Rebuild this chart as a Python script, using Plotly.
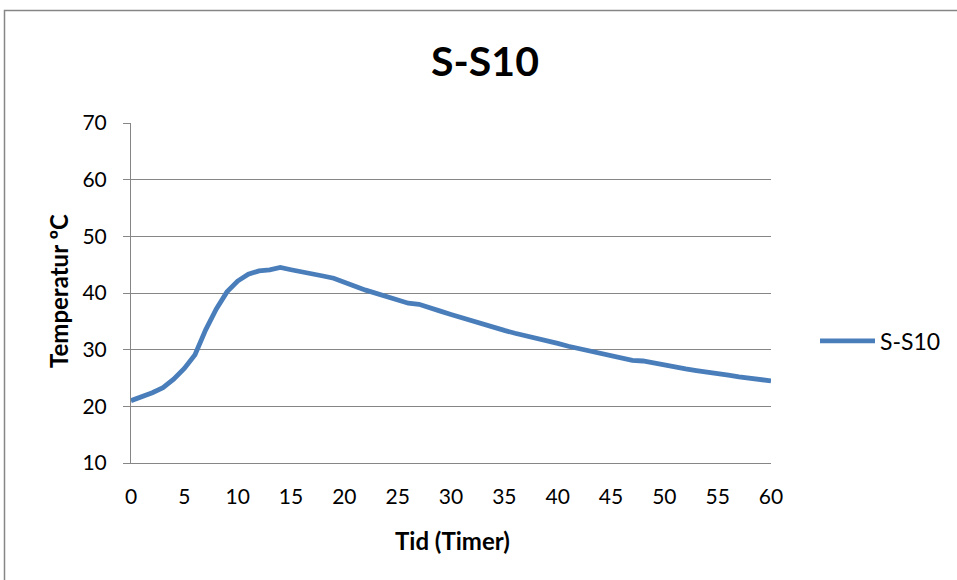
import plotly.graph_objects as go

# Data
hours = list(range(0, 61))
temperature = [
    21.0, 21.6, 22.4, 23.3, 24.8, 26.7, 29.1, 33.5, 37.2, 40.2,
    42.1, 43.3, 43.9, 44.1, 44.5, 44.1, 43.8, 43.5, 43.0, 42.6,
    42.0, 41.2, 40.5, 39.9, 39.4, 38.9, 38.2, 38.0, 37.3, 36.8,
    36.2, 35.6, 35.1, 34.4, 33.9, 33.4, 32.9, 32.5, 32.0, 31.6,
    31.1, 30.6, 30.2, 29.8, 29.3, 29.0, 28.6, 28.1, 28.0, 27.6,
    27.2, 27.0, 26.6, 26.3, 26.1, 25.8, 25.5, 25.2, 25.0, 24.9,
    24.5,
]
series_name = "S-S10"
chart_title = "S-S10"
x_title = "Tid (Timer)"
y_title = "Temperatur ºC"
x_ticks = list(range(0, 61, 5))
y_ticks = list(range(10, 71, 10))

FONT = "Lato, 'Open Sans', sans-serif"
GRID = "#868686"

fig = go.Figure()
fig.add_trace(go.Scatter(
    x=hours, y=temperature, mode="lines", name=series_name,
    line=dict(color="#4A7EBB", width=4.8, shape="linear"),
))

W, H = 957, 580
L, R, T, B = 131, 957 - 771, 123, 580 - 463
pw, ph = W - L - R, H - T - B

def px_x(p):
    return (p - L) / pw

def px_y(p):
    return (H - B - p) / ph

fig.update_layout(
    width=W, height=H,
    margin=dict(l=L, r=R, t=T, b=B, autoexpand=False),
    paper_bgcolor="white", plot_bgcolor="white",
    font=dict(family=FONT, size=21, color="#000000"),
    title=dict(text="<b>" + chart_title + "</b>", x=485 / W, xref="container",
               xanchor="center", y=1 - 62 / H, yref="container", yanchor="middle",
               font=dict(size=41, family=FONT)),
    showlegend=True,
    legend=dict(x=px_x(815), y=px_y(341), xanchor="left", yanchor="middle",
                font=dict(size=23, family=FONT), itemwidth=55,
                bgcolor="rgba(0,0,0,0)"),
    xaxis=dict(range=[0, 60], tickvals=x_ticks, ticktext=[str(v) for v in x_ticks],
               showgrid=False, zeroline=False, showline=True, linecolor=GRID,
               linewidth=1, ticks="", ticklabelstandoff=15,
               tickfont=dict(size=21, family=FONT)),
    yaxis=dict(range=[10, 70], tickvals=y_ticks, showgrid=True, gridcolor=GRID,
               gridwidth=1, zeroline=False, showline=True, linecolor=GRID,
               linewidth=1, ticks="outside", ticklen=7, tickcolor=GRID,
               ticklabelstandoff=12, tickfont=dict(size=21, family=FONT)),
    annotations=[
        dict(text="<b>" + x_title + "</b>", xref="paper", yref="paper",
             x=px_x(452), y=px_y(540), xanchor="center", yanchor="middle",
             showarrow=False, font=dict(size=24, family=FONT)),
        dict(text="<b>" + y_title + "</b>", xref="paper", yref="paper",
             x=px_x(58), y=px_y(291), xanchor="center", yanchor="middle",
             textangle=-90, showarrow=False, font=dict(size=24, family=FONT)),
    ],
    shapes=[
        dict(type="rect", xref="paper", yref="paper",
             x0=px_x(4.5), x1=px_x(990), y0=px_y(10.5), y1=px_y(620),
             line=dict(color=GRID, width=1.5), fillcolor="rgba(0,0,0,0)",
             layer="below"),
    ],
)

fig.write_html("out.html",
               config={"displayModeBar": False},
               post_script="document.body.style.margin='0';document.body.style.padding='0';")
